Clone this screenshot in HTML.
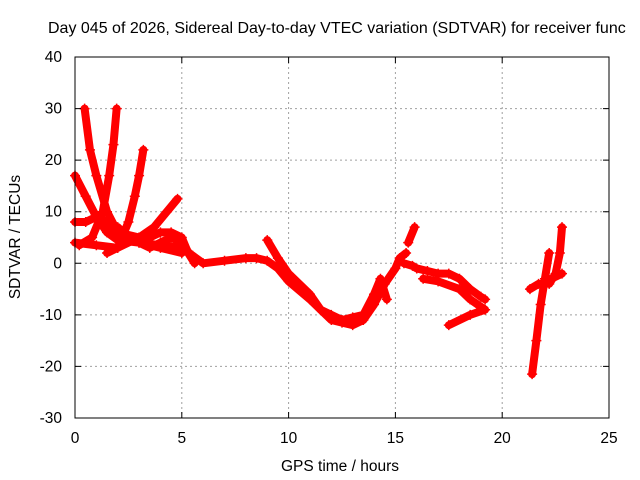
<!DOCTYPE html>
<html><head><meta charset="utf-8"><style>
body{margin:0;background:#fff}
svg{display:block;font-family:"Liberation Sans",sans-serif}
</style></head><body>
<svg id="c" width="640" height="480" viewBox="0 0 640 480">
<rect width="640" height="480" fill="#fff"/>
<text x="48" y="33" font-size="16" fill="#000">Day 045 of 2026, Sidereal Day-to-day VTEC variation (SDTVAR) for receiver func</text>
<g id="grid"></g>
<g id="series"></g>
<rect x="75" y="57" width="534" height="361" fill="none" stroke="#000" stroke-width="1"/>
<g id="axes"></g>
<text x="340" y="471" font-size="15.5" text-anchor="middle">GPS time / hours</text>
<text transform="translate(20,237) rotate(-90)" font-size="15.5" text-anchor="middle">SDTVAR / TECUs</text>
</svg>
<script>
const xTicks=[0,5,10,15,20,25];
const yTicks=[-30,-20,-10,0,10,20,30,40];
const s1=[[0.45,30],[0.7,22],[1.0,17],[1.5,10],[2,6],[3,4],[4,3.5],[5,3],[5.5,1.5],[6,0],[7,0.5],[8,1],[8.5,1],[9,0.5],[9.5,-1],[10,-3.5],[11,-7],[11.5,-9],[12,-11],[12.5,-11.5],[13,-12],[13.5,-11],[14,-8],[14.5,-4],[15,-1],[15.2,1],[15.5,2]];
const s2=[[0.2,3.5],[0.8,5],[1.3,10],[1.6,17],[1.8,23],[1.95,30]];
const s3=[[0,17],[0.5,13],[1,9],[1.5,6],[2,4.5],[3,4],[4,3],[5,2]];
const s4=[[1.5,2],[2,3],[2.5,8],[2.8,13],[3.0,17],[3.2,22]];
const s5=[[0,8],[0.5,8],[1,9],[1.5,8],[2,6],[3,5],[3.5,5],[4,6],[4.5,6],[5,5],[5.3,2],[5.6,0]];
const s6=[[0,4],[1,3.5],[2,3],[3,5],[3.7,7],[4.3,10],[4.8,12.5]];
const s7=[[2,7],[2.5,5],[3,4],[3.5,3],[4,4],[4.5,5],[5,4],[5.5,1]];
const s8=[[9,4.5],[9.5,1],[10,-2],[11,-6],[11.5,-9],[12,-10],[12.5,-11],[13,-10.5],[13.5,-10],[14,-6],[14.3,-3],[14.6,-7]];
const s9=[[15.4,0],[15.8,-0.5],[16,-1],[16.5,-1.5],[17,-2],[17.5,-2],[18,-3],[18.5,-5],[19,-6.5],[19.2,-7]];
const s10=[[16.3,-3],[17,-3.5],[18,-5],[18.5,-7],[19.2,-9],[18.5,-10],[17.5,-12]];
const s11=[[15.6,4],[15.9,7]];
const s12=[[21.4,-21.5],[21.6,-15],[21.8,-8],[22,-3],[22.2,2]];
const s13=[[21.3,-5],[21.7,-4],[22,-4],[22.3,-3],[22.8,-2]];
const s14=[[22.2,-4],[22.5,-2],[22.7,2],[22.8,7]];
const allSeries=[s1,s2,s3,s4,s5,s6,s7,s8,s9,s10,s11,s12,s13,s14];
const NS='http://www.w3.org/2000/svg';
const X=v=>75+v*534/25;
const Y=v=>418-(v+30)*361/70;
const grid=document.getElementById('grid'),axes=document.getElementById('axes'),ser=document.getElementById('series');
function mk(t,a,p){const e=document.createElementNS(NS,t);for(const k in a)e.setAttribute(k,a[k]);p.appendChild(e);return e;}
xTicks.forEach(t=>{
  if(t>0&&t<25){const g=mk('line',{x1:X(t),x2:X(t),y1:57,y2:418,stroke:'#a0a0a0','stroke-dasharray':'2,3'},grid);
  
  }
  const tk=mk('path',{d:`M${X(t)},418v-6M${X(t)},57v6`,stroke:'#000'},axes);
  
  
  const l=mk('text',{x:X(t),y:443,'font-size':'15.5','text-anchor':'middle'},axes);l.textContent=t;
  
  
});
yTicks.forEach(t=>{
  if(t>-30&&t<40){const g=mk('line',{x1:75,x2:609,y1:Y(t),y2:Y(t),stroke:'#a0a0a0','stroke-dasharray':'2,3'},grid);
  
  }
  const tk=mk('path',{d:`M75,${Y(t)}h6M609,${Y(t)}h-6`,stroke:'#000'},axes);
  
  
  const l=mk('text',{x:62,y:Y(t)+5,'font-size':'15.5','text-anchor':'end'},axes);l.textContent=t;
  
  
});
allSeries.forEach((s,i)=>{
  const pl=mk('polyline',{points:s.map(p=>X(p[0])+','+Y(p[1])).join(' '),fill:'none',stroke:'#f00','stroke-width':8,'stroke-linejoin':'round','stroke-linecap':'round'},ser);
  
  
  s.forEach(p=>{
    const m=mk('path',{d:`M${X(p[0])-5},${Y(p[1])}h10M${X(p[0])},${Y(p[1])-5}v10`,stroke:'#f00','stroke-width':1.5},ser);
    
    
  });
});
</script>
</body></html>
